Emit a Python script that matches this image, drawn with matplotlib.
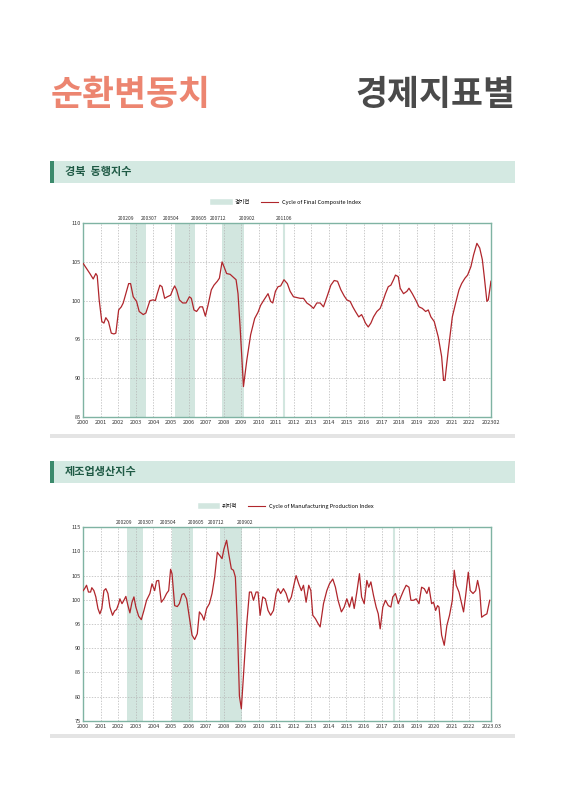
import matplotlib
matplotlib.use("Agg")
import matplotlib.pyplot as plt
from matplotlib.patches import Rectangle
from matplotlib.lines import Line2D

plt.rcParams['font.family'] = ['Noto Sans CJK KR', 'DejaVu Sans']

# 경북 동행지수 순환변동치
comp_year = [2000.00, 2000.38, 2000.57, 2000.72, 2000.80, 2000.91, 2001.06, 2001.18, 2001.29, 2001.44,
             2001.60, 2001.75, 2001.86, 2002.02, 2002.17, 2002.28, 2002.43, 2002.59, 2002.70, 2002.85,
             2003.04, 2003.19, 2003.42, 2003.57, 2003.80, 2003.99, 2004.11, 2004.22, 2004.37, 2004.49,
             2004.64, 2004.79, 2004.98, 2005.10, 2005.21, 2005.32, 2005.48, 2005.67, 2005.86, 2006.05,
             2006.16, 2006.31, 2006.46, 2006.65, 2006.80, 2006.96, 2007.11, 2007.30, 2007.45, 2007.64,
             2007.76, 2007.91, 2008.02, 2008.17, 2008.37, 2008.56, 2008.71, 2008.82, 2008.94, 2009.13,
             2009.32, 2009.54, 2009.77, 2009.96, 2010.11, 2010.30, 2010.53, 2010.68, 2010.80, 2010.95,
             2011.10, 2011.25, 2011.44, 2011.63, 2011.79, 2011.98, 2012.17, 2012.36, 2012.55, 2012.74,
             2012.93, 2013.12, 2013.31, 2013.50, 2013.69, 2013.92, 2014.11, 2014.30, 2014.49, 2014.68,
             2014.87, 2015.02, 2015.21, 2015.36, 2015.51, 2015.70, 2015.86, 2015.97, 2016.08, 2016.24,
             2016.39, 2016.54, 2016.73, 2016.92, 2017.07, 2017.22, 2017.38, 2017.53, 2017.68, 2017.79,
             2017.95, 2018.06, 2018.25, 2018.44, 2018.56, 2018.75, 2018.94, 2019.13, 2019.32, 2019.51,
             2019.66, 2019.81, 2020.00, 2020.23, 2020.42, 2020.53, 2020.61, 2020.80, 2021.03, 2021.22,
             2021.41, 2021.56, 2021.75, 2021.90, 2022.09, 2022.24, 2022.43, 2022.59, 2022.74, 2022.85,
             2023.00, 2023.08, 2023.23]
comp_val = [104.8, 103.5, 102.8, 103.5, 103.2, 100.1, 97.3, 97.1, 97.8, 97.3,
            95.8, 95.7, 95.8, 98.8, 99.2, 99.7, 100.9, 102.2, 102.2, 100.5,
            99.9, 98.6, 98.2, 98.4, 100.0, 100.1, 100.0, 100.9, 102.0, 101.8,
            100.3, 100.5, 100.7, 101.4, 101.9, 101.4, 100.1, 99.7, 99.7, 100.5,
            100.3, 98.8, 98.6, 99.2, 99.2, 98.0, 99.4, 101.4, 102.0, 102.5,
            102.9, 105.0, 104.4, 103.5, 103.4, 103.0, 102.7, 100.9, 96.6, 88.9,
            92.3, 95.6, 97.7, 98.5, 99.4, 100.1, 100.9, 99.9, 99.7, 101.2,
            101.8, 101.9, 102.7, 102.2, 101.2, 100.5, 100.4, 100.3, 100.3, 99.7,
            99.4, 99.0, 99.7, 99.7, 99.2, 100.7, 102.0, 102.6, 102.5, 101.4,
            100.6, 100.1, 99.9, 99.2, 98.6, 97.9, 98.2, 97.7, 97.1, 96.6,
            97.1, 97.9, 98.6, 99.0, 99.9, 100.9, 101.8, 102.0, 102.7, 103.3,
            103.1, 101.6, 100.9, 101.2, 101.6, 100.9, 100.1, 99.2, 99.0, 98.6,
            98.8, 97.9, 97.3, 95.3, 92.8, 89.7, 89.7, 93.6, 97.9, 99.7,
            101.4, 102.2, 102.9, 103.3, 104.4, 105.9, 107.4, 106.8, 105.3, 103.1,
            99.9, 100.1, 102.5]
comp_bands = [(2002.66, 2003.57), (2005.23, 2006.39), (2007.91, 2009.16)]
comp_line = 2011.46
comp_tags = [(2002.66, '200209', -1), (2003.57, '200307', 1),
             (2005.23, '200504', -1), (2006.39, '200605', 1),
             (2007.91, '200712', -1), (2009.16, '200902', 1),
             (2011.46, '201106', 0)]

# 제조업생산지수 순환변동치
mfg_year = [2000.00, 2000.08, 2000.19, 2000.30, 2000.42, 2000.49, 2000.61, 2000.72, 2000.84, 2000.95,
            2001.06, 2001.18, 2001.29, 2001.41, 2001.52, 2001.67, 2001.79, 2001.90, 2002.02, 2002.09,
            2002.21, 2002.32, 2002.43, 2002.55, 2002.66, 2002.78, 2002.89, 2003.00, 2003.16, 2003.31,
            2003.46, 2003.61, 2003.80, 2003.92, 2004.07, 2004.18, 2004.30, 2004.45, 2004.60, 2004.75,
            2004.87, 2004.98, 2005.06, 2005.21, 2005.36, 2005.48, 2005.63, 2005.74, 2005.89, 2006.05,
            2006.20, 2006.35, 2006.50, 2006.62, 2006.77, 2006.88, 2007.03, 2007.19, 2007.34, 2007.49,
            2007.64, 2007.79, 2007.91, 2008.02, 2008.17, 2008.29, 2008.44, 2008.56, 2008.67, 2008.78,
            2008.90, 2009.01, 2009.16, 2009.32, 2009.47, 2009.58, 2009.70, 2009.85, 2009.96, 2010.08,
            2010.23, 2010.38, 2010.53, 2010.68, 2010.84, 2010.99, 2011.10, 2011.25, 2011.41, 2011.56,
            2011.71, 2011.86, 2012.02, 2012.13, 2012.28, 2012.43, 2012.55, 2012.70, 2012.85, 2012.97,
            2013.08, 2013.23, 2013.38, 2013.50, 2013.69, 2013.88, 2014.03, 2014.22, 2014.37, 2014.52,
            2014.71, 2014.87, 2015.02, 2015.17, 2015.32, 2015.44, 2015.59, 2015.74, 2015.86, 2016.01,
            2016.16, 2016.27, 2016.39, 2016.54, 2016.69, 2016.81, 2016.92, 2017.07, 2017.22, 2017.38,
            2017.53, 2017.64, 2017.79, 2017.95, 2018.10, 2018.25, 2018.40, 2018.56, 2018.67, 2018.82,
            2018.97, 2019.13, 2019.28, 2019.43, 2019.58, 2019.70, 2019.85, 2019.96, 2020.08, 2020.19,
            2020.27, 2020.42, 2020.57, 2020.72, 2020.87, 2021.03, 2021.14, 2021.25, 2021.41, 2021.56,
            2021.67, 2021.79, 2021.94, 2022.05, 2022.21, 2022.36, 2022.47, 2022.59, 2022.70, 2022.85,
            2023.00, 2023.16]
mfg_val = [101.9, 102.3, 103.0, 101.6, 101.6, 102.5, 101.9, 100.6, 98.2, 97.1,
           98.2, 101.9, 102.3, 101.3, 98.5, 96.8, 97.7, 98.0, 99.2, 100.2,
           99.2, 99.9, 100.7, 98.8, 97.3, 99.5, 100.6, 98.5, 96.6, 95.9,
           97.8, 99.9, 101.3, 103.3, 101.9, 103.9, 104.0, 99.5, 100.2, 101.3,
           101.9, 106.3, 105.4, 98.8, 98.6, 99.2, 101.1, 101.3, 100.2, 96.4,
           92.7, 91.8, 93.0, 97.5, 96.8, 95.8, 98.2, 99.2, 101.3, 104.7,
           109.8, 109.1, 108.5, 110.5, 112.3, 109.5, 106.4, 106.1, 104.7, 95.1,
           80.1, 77.5, 86.1, 95.1, 101.6, 101.6, 99.9, 101.6, 101.6, 96.8,
           100.6, 100.2, 97.8, 96.8, 97.8, 101.3, 102.3, 101.3, 102.3, 101.3,
           99.5, 100.6, 103.3, 105.0, 103.3, 101.9, 103.0, 99.5, 103.0, 101.9,
           96.8, 96.1, 95.1, 94.4, 99.2, 101.9, 103.3, 104.3, 102.6, 99.9,
           97.5, 98.5, 100.2, 98.5, 100.6, 98.2, 101.6, 105.4, 100.6, 99.2,
           104.0, 102.6, 103.7, 100.9, 98.5, 97.1, 94.0, 98.5, 99.9, 98.8,
           98.5, 100.6, 101.3, 99.2, 100.6, 101.9, 103.0, 102.6, 99.9, 99.9,
           100.2, 99.2, 102.6, 102.3, 101.3, 102.6, 99.2, 99.5, 97.8, 98.8,
           98.5, 92.7, 90.6, 94.7, 96.8, 99.9, 106.1, 103.0, 101.6, 99.2,
           97.5, 100.9, 105.7, 101.9, 101.3, 101.9, 104.0, 101.9, 96.4, 96.8,
           97.1, 99.9]
mfg_bands = [(2002.51, 2003.38), (2005.06, 2006.24), (2007.79, 2009.05)]
mfg_line = 2017.68
mfg_tags = [(2002.51, '200209', -1), (2003.38, '200307', 1),
            (2005.06, '200504', -1), (2006.24, '200605', 1),
            (2007.79, '200712', -1), (2009.05, '200902', 1)]

years = list(range(2000, 2023))
LINE = '#b0262c'
BAND = '#d2e6df'
FRAME = '#7fb3a3'


def section_bar(fig, y, title):
    fig.patches.append(Rectangle((0.088, y), 0.822, 0.028, transform=fig.transFigure,
                                 facecolor='#d4e9e2', edgecolor='none'))
    fig.patches.append(Rectangle((0.088, y), 0.007, 0.028, transform=fig.transFigure,
                                 facecolor='#3b8a6c', edgecolor='none'))
    fig.text(0.115, y + 0.014, title, fontsize=8, fontweight='bold', color='#1f5a45', va='center')
    fig.patches.append(Rectangle((0.088, y - 0.318), 0.822, 0.004, transform=fig.transFigure,
                                 facecolor='#e4e4e4', edgecolor='none'))


def draw_chart(ax, xs, ys, bands, vline, tags, ylim, step, end_label, legend_band, legend_line):
    for a, b in bands:
        ax.axvspan(a, b, color=BAND, lw=0, zorder=0)
    ax.axvline(vline, color=BAND, lw=1.5, zorder=0)
    for yr in years[1:]:
        ax.axvline(yr, color='#b5b5b5', ls=(0, (2, 2)), lw=0.5, zorder=1)
    for v in range(ylim[0] + step, ylim[1], step):
        ax.axhline(v, color='#b5b5b5', ls=(0, (2, 2)), lw=0.5, zorder=1)
    ax.plot(xs, ys, color=LINE, lw=0.9, zorder=3)
    ax.set_xlim(2000, 2023.25)
    ax.set_ylim(*ylim)
    ax.set_yticks(range(ylim[0], ylim[1] + 1, step))
    ax.set_xticks(years + [2023.25])
    ax.set_xticklabels([str(y) for y in years] + [end_label])
    ax.tick_params(labelsize=4, length=0, pad=2, colors='#333333')
    for s in ax.spines.values():
        s.set_color(FRAME)
        s.set_linewidth(1.0)
    for x, t, side in tags:
        ax.text(x + 0.2 * side, ylim[1] + (ylim[1] - ylim[0]) * 0.012, t, fontsize=3.6,
                ha='center', va='bottom', color='#333333')
    handles = [Line2D([], [], color=BAND, lw=4), Line2D([], [], color=LINE, lw=0.8)]
    ax.legend(handles, [legend_band, legend_line], loc='lower center', bbox_to_anchor=(0.5, 1.07),
              ncol=2, frameon=False, fontsize=4, handlelength=3, columnspacing=2)


fig = plt.figure(figsize=(5.66, 8), dpi=100)
fig.text(0.09, 0.882, '순환변동치', fontsize=25, fontweight='bold', color='#ec8570', va='center')
fig.text(0.91, 0.882, '경제지표별', fontsize=25, fontweight='bold', color='#4a4a4a',
         va='center', ha='right')

section_bar(fig, 0.771, '경북  동행지수')
section_bar(fig, 0.396, '제조업생산지수')

ax1 = fig.add_axes([0.147, 0.479, 0.721, 0.242])
draw_chart(ax1, comp_year, comp_val, comp_bands, comp_line, comp_tags, (85, 110), 5, '202302',
           '경기전', 'Cycle of Final Composite Index')

ax2 = fig.add_axes([0.147, 0.099, 0.721, 0.242])
draw_chart(ax2, mfg_year, mfg_val, mfg_bands, mfg_line, mfg_tags, (75, 115), 5, '2023.03',
           '위지적', 'Cycle of Manufacturing Production Index')

fig.savefig('out.png', dpi=100)
